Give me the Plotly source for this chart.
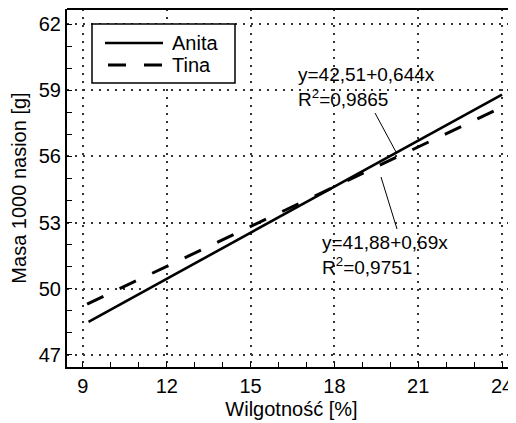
import plotly.graph_objects as go

series_names = ["Anita", "Tina"]
anita_x = [9.2, 24.0]
anita_y = [48.5, 58.8]
tina_x = [9.15, 23.95]
tina_y = [49.3, 58.2]
x_ticks = [9, 12, 15, 18, 21, 24]
y_ticks = [47, 50, 53, 56, 59, 62]
eq_texts = ["y=42,51+0,644x<br>R<sup>2</sup>=0,9865", "y=41,88+0,69x<br>R<sup>2</sup>=0,9751"]

# the page body has an 8px default margin; work in reference pixels shifted by it
O = 8
W, H = 516 - O, 423 - O
L, R, T, B = 67 - O, 516 - O, 9 - O, 367 - O
FONT = "Liberation Sans, Arial, sans-serif"
DASH = "18px,18px"


def px(p):
    return (p - O - L) / (R - L)


def py(p):
    return 1 - (p - O - T) / (B - T)


fig = go.Figure()
fig.add_trace(go.Scatter(x=anita_x, y=anita_y, mode="lines", name=series_names[0],
                         line=dict(color="black", width=2.6)))
fig.add_trace(go.Scatter(x=tina_x, y=tina_y, mode="lines", name=series_names[1],
                         line=dict(color="black", width=3, dash=DASH)))

axis_common = dict(
    showgrid=True, gridcolor="#333", gridwidth=1.5, griddash="2px,6px",
    showline=True, linecolor="black", linewidth=2,
    ticks="inside", ticklen=5, tickcolor="black", tickwidth=1.2,
    tickfont=dict(family=FONT, size=20, color="black"),
    zeroline=False,
    minor=dict(dtick=1, ticks="inside", ticklen=5, tickcolor="black", tickwidth=1.2, showgrid=False),
)

fig.update_xaxes(range=[8.43, 24.5], tickvals=x_ticks, **axis_common,
                 title=dict(text="Wilgotność [%]", font=dict(family=FONT, size=20, color="black"), standoff=6))
fig.update_yaxes(range=[46.45, 62.68], tickvals=y_ticks, **axis_common,
                 title=dict(text="Masa 1000 nasion [g]", font=dict(family=FONT, size=20, color="black"), standoff=12))

shapes = []
# top frame line
shapes.append(dict(type="line", xref="paper", yref="paper", x0=0, x1=1, y0=1, y1=1,
                   line=dict(color="black", width=2)))
# legend box
shapes.append(dict(type="rect", xref="paper", yref="paper", x0=px(92), x1=px(235), y0=py(83), y1=py(24),
                   line=dict(color="black", width=1.5), fillcolor="white"))
shapes.append(dict(type="line", xref="paper", yref="paper", x0=px(105), x1=px(163), y0=py(43), y1=py(43),
                   line=dict(color="black", width=2.6)))
shapes.append(dict(type="line", xref="paper", yref="paper", x0=px(108), x1=px(163), y0=py(65), y1=py(65),
                   line=dict(color="black", width=3, dash=DASH)))
# pointer lines
shapes.append(dict(type="line", xref="paper", yref="paper", x0=px(375), x1=px(396), y0=py(113), y1=py(152),
                   line=dict(color="black", width=1)))
shapes.append(dict(type="line", xref="paper", yref="paper", x0=px(381), x1=px(397), y0=py(177), y1=py(229),
                   line=dict(color="black", width=1)))
fig.update_layout(shapes=shapes)

annotations = [
    dict(text=series_names[0], x=px(170), y=py(43), xref="paper", yref="paper", xanchor="left", yanchor="middle",
         showarrow=False, font=dict(family=FONT, size=20, color="black")),
    dict(text=series_names[1], x=px(170), y=py(65), xref="paper", yref="paper", xanchor="left", yanchor="middle",
         showarrow=False, font=dict(family=FONT, size=20, color="black")),
    dict(text=eq_texts[0], x=px(296), y=py(62), xref="paper", yref="paper", xanchor="left", yanchor="top",
         align="left", showarrow=False, font=dict(family=FONT, size=19, color="black")),
    dict(text=eq_texts[1], x=px(320), y=py(230), xref="paper", yref="paper", xanchor="left", yanchor="top",
         align="left", showarrow=False, font=dict(family=FONT, size=19, color="black")),
]
fig.update_layout(annotations=annotations)

fig.update_layout(
    width=W, height=H,
    margin=dict(l=L, r=W - R, t=T, b=H - B, autoexpand=False),
    plot_bgcolor="white", paper_bgcolor="white",
    showlegend=False,
)

fig.write_html("out.html")
